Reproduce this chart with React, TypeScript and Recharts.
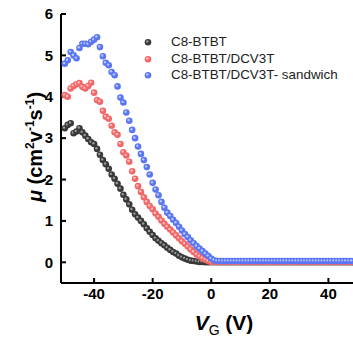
import React from 'react';
import { ScatterChart, Scatter, XAxis, YAxis } from 'recharts';

const VG = [
  -50, -49, -48, -47, -46, -45, -44, -43, -42, -41,
  -40, -39, -38, -37, -36, -35, -34, -33, -32, -31,
  -30, -29, -28, -27, -26, -25, -24, -23, -22, -21,
  -20, -19, -18, -17, -16, -15, -14, -13, -12, -11,
  -10, -9, -8, -7, -6, -5, -4, -3, -2, -1,
  0, 1, 2, 3, 4, 5, 6, 7, 8, 9,
  10, 11, 12, 13, 14, 15, 16, 17, 18, 19,
  20, 21, 22, 23, 24, 25, 26, 27, 28, 29,
  30, 31, 32, 33, 34, 35, 36, 37, 38, 39,
  40, 41, 42, 43, 44, 45, 46, 47, 48,
];

const MU_C8BTBT = [
  3.24, 3.32, 3.36, 3.12, 3.16, 3.24, 3.14, 3.06, 2.98, 2.9,
  2.86, 2.74, 2.6, 2.47, 2.37, 2.26, 2.12, 2.02, 1.9, 1.78,
  1.63, 1.52, 1.4, 1.27, 1.16, 1.08, 1.0, 0.92, 0.82, 0.74,
  0.66, 0.58, 0.52, 0.46, 0.41, 0.35, 0.3, 0.25, 0.21, 0.16,
  0.12, 0.09, 0.06, 0.04, 0.03, 0.02, 0.01, 0.01, 0.0, 0.0,
  0.0, 0.0, 0.0, 0.0, 0.0, 0.0, 0.0, 0.0, 0.0, 0.0,
  0.0, 0.0, 0.0, 0.0, 0.0, 0.0, 0.0, 0.0, 0.0, 0.0,
  0.0, 0.0, 0.0, 0.0, 0.0, 0.0, 0.0, 0.0, 0.0, 0.0,
  0.0, 0.0, 0.0, 0.0, 0.0, 0.0, 0.0, 0.0, 0.0, 0.0,
  0.0, 0.0, 0.0, 0.0, 0.0, 0.0, 0.0, 0.0, 0.0,
];

const MU_DCV3T = [
  4.04, 4.0, 4.2, 4.26, 4.3, 4.33, 4.24, 4.2, 4.26, 4.34,
  4.1, 3.92, 3.88, 3.66, 3.52, 3.47, 3.3, 3.14, 3.08, 2.86,
  2.66, 2.58, 2.43, 2.2, 2.02, 1.84, 1.7, 1.57, 1.46, 1.36,
  1.28, 1.18, 1.1, 1.01, 0.93, 0.86, 0.79, 0.72, 0.65, 0.58,
  0.51, 0.45, 0.38, 0.31, 0.25, 0.19, 0.14, 0.1, 0.06, 0.03,
  0.01, 0.01, 0.01, 0.01, 0.01, 0.01, 0.01, 0.01, 0.01, 0.01,
  0.01, 0.01, 0.01, 0.01, 0.01, 0.01, 0.01, 0.01, 0.01, 0.01,
  0.01, 0.01, 0.01, 0.01, 0.01, 0.01, 0.01, 0.01, 0.01, 0.01,
  0.01, 0.01, 0.01, 0.01, 0.01, 0.01, 0.01, 0.01, 0.01, 0.01,
  0.01, 0.01, 0.01, 0.01, 0.01, 0.01, 0.01, 0.01, 0.01,
];

const MU_SANDWICH = [
  4.8, 4.88, 5.08, 5.0, 4.93, 5.18, 5.28, 5.28, 5.27, 5.33,
  5.38, 5.44, 5.2, 4.98, 4.82, 4.76, 4.6, 4.52, 4.25, 3.98,
  3.86, 3.62, 3.42, 3.2, 3.0, 2.8, 2.62, 2.47, 2.3, 2.12,
  1.92, 1.76, 1.62, 1.46, 1.32, 1.2, 1.12, 1.03, 0.95, 0.86,
  0.77, 0.68, 0.61, 0.53, 0.46, 0.39, 0.33, 0.27, 0.21, 0.15,
  0.09, 0.05, 0.03, 0.03, 0.03, 0.03, 0.03, 0.03, 0.03, 0.03,
  0.03, 0.03, 0.03, 0.03, 0.03, 0.03, 0.03, 0.03, 0.03, 0.03,
  0.03, 0.03, 0.03, 0.03, 0.03, 0.03, 0.03, 0.03, 0.03, 0.03,
  0.03, 0.03, 0.03, 0.03, 0.03, 0.03, 0.03, 0.03, 0.03, 0.03,
  0.03, 0.03, 0.03, 0.03, 0.03, 0.03, 0.03, 0.03, 0.03,
];

const SERIES_NAMES = ['C8-BTBT', 'C8-BTBT/DCV3T', 'C8-BTBT/DCV3T- sandwich'];
const X_TICKS = [-40, -20, 0, 20, 40];
const Y_TICKS = [0, 1, 2, 3, 4, 5, 6];

const COLORS = ['#3a3a3a', '#f26868', '#5a76f2'];
const HIGHLIGHTS = ['#9a9a9a', '#ffc0c0', '#b8c6ff'];

const FONT = '"Liberation Sans", Arial, sans-serif';

const toPoints = (ys: number[]) => VG.map((x, i) => ({ x, y: ys[i] }));
const seriesData = [toPoints(MU_C8BTBT), toPoints(MU_DCV3T), toPoints(MU_SANDWICH)];

const makeShape = (idx: number) => (props: any) => {
  const { cx, cy } = props;
  if (cx == null || cy == null) return <g />;
  return (
    <g>
      <circle cx={cx} cy={cy} r={3.3} fill={COLORS[idx]} />
      <circle cx={cx - 0.7} cy={cy - 0.7} r={1.2} fill={HIGHLIGHTS[idx]} />
    </g>
  );
};

const X_DOMAIN: [number, number] = [-51.3, 48.4];
const tickStyle = { fontSize: 15, fontWeight: 700, fill: '#000', fontFamily: FONT };

export default function App() {
  return (
    <div style={{ position: 'absolute', left: 0, top: 0, width: 353, height: 338, background: '#fff', overflow: 'hidden' }}>
      <ScatterChart width={353} height={338} margin={{ top: 14, right: 0, bottom: 0, left: 0 }}>
        <XAxis
          dataKey="x"
          type="number"
          domain={X_DOMAIN}
          allowDataOverflow
          ticks={X_TICKS}
          height={55}
          tickSize={-5}
          tickMargin={10}
          tick={tickStyle}
          axisLine={{ stroke: '#000', strokeWidth: 2 }}
          tickLine={{ stroke: '#000', strokeWidth: 2 }}
        />
        <XAxis
          xAxisId="top"
          orientation="top"
          type="number"
          domain={X_DOMAIN}
          allowDataOverflow
          height={0}
          tick={false}
          tickLine={false}
          axisLine={{ stroke: '#000', strokeWidth: 2 }}
        />
        <YAxis
          dataKey="y"
          type="number"
          domain={[-0.5, 6]}
          allowDataOverflow
          ticks={Y_TICKS}
          width={61}
          tickSize={-5}
          tickMargin={13}
          tick={tickStyle}
          axisLine={{ stroke: '#000', strokeWidth: 2 }}
          tickLine={{ stroke: '#000', strokeWidth: 2 }}
        />
        {seriesData.map((d, i) => (
          <Scatter
            key={SERIES_NAMES[i]}
            name={SERIES_NAMES[i]}
            data={d}
            isAnimationActive={false}
            shape={makeShape(i)}
          />
        ))}
      </ScatterChart>
      <svg width={353} height={338} style={{ position: 'absolute', left: 0, top: 0, pointerEvents: 'none' }}>
        <text
          transform="translate(42,147) rotate(-90)"
          textAnchor="middle"
          fontFamily={FONT}
          fontWeight={700}
          fontSize={20}
          fill="#000"
        >
          <tspan fontStyle="italic">μ</tspan>
          <tspan> (cm</tspan>
          <tspan fontSize={12} dy={-8}>2</tspan>
          <tspan dy={8}>v</tspan>
          <tspan fontSize={12} dy={-8}>-1</tspan>
          <tspan dy={8}>s</tspan>
          <tspan fontSize={12} dy={-8}>-1</tspan>
          <tspan dy={8}>)</tspan>
        </text>
        <text x={224} y={330} textAnchor="middle" fontFamily={FONT} fontWeight={700} fontSize={21} fill="#000">
          <tspan fontStyle="italic">V</tspan>
          <tspan fontSize={14} fontWeight={400} dy={5}>G</tspan>
          <tspan dy={-5}> (V)</tspan>
        </text>
      </svg>
      <div style={{ position: 'absolute', left: 142, top: 34, fontFamily: FONT, fontSize: 13.4, color: '#222', lineHeight: '16.5px' }}>
        {SERIES_NAMES.map((n, i) => (
          <div key={n} style={{ display: 'flex', alignItems: 'center', whiteSpace: 'nowrap' }}>
            <svg width={29} height={16.5} style={{ display: 'block' }}>
              <circle cx={6} cy={8.25} r={3.3} fill={COLORS[i]} />
              <circle cx={5.3} cy={7.55} r={1.2} fill={HIGHLIGHTS[i]} />
            </svg>
            <span>{n}</span>
          </div>
        ))}
      </div>
    </div>
  );
}
